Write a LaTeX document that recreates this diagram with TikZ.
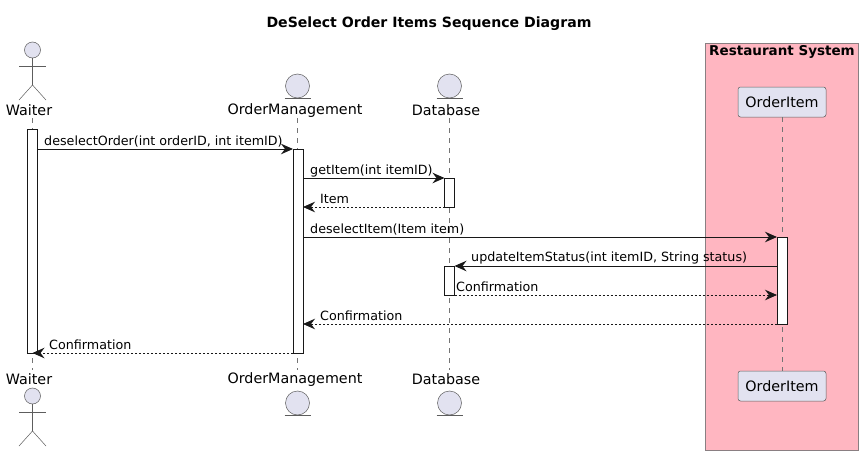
\documentclass[tikz,border=0pt]{standalone}
\usepackage{fontspec}
\setmainfont{DejaVu Sans}
\usetikzlibrary{arrows.meta}
\definecolor{partfill}{HTML}{E2E2F0}
\definecolor{inkline}{HTML}{181818}
\definecolor{boxpink}{HTML}{FFB6C1}
\definecolor{boxedge}{HTML}{8A7F82}
\tikzset{
  x=1pt,y=-1pt,
  lifeline/.style={draw=inkline!60,line width=0.5pt,dash pattern=on 5pt off 5pt},
  activation/.style={draw=inkline,fill=white,line width=1pt,minimum width=10pt,inner sep=0pt,outer sep=0pt,rectangle},
  msgtip/.style={-{Stealth[inset=4pt,length=12pt,width=10.5pt,inkline]}},
  msg/.style={draw=inkline,line width=1pt,msgtip},
  ret/.style={draw=inkline,line width=0.8pt,dash pattern=on 2pt off 2pt,msgtip},
  msglabel/.style={anchor=base west,inner sep=0pt,font=\fontsize{12.7}{15}\selectfont,text=black},
  partlabel/.style={inner sep=0pt,font=\fontsize{14.3}{16}\selectfont,text=black},
  partbox/.style={draw=inkline!70,fill=partfill,rounded corners=2.5pt,line width=0.5pt,minimum width=88pt,minimum height=30pt,inner sep=0pt,font=\fontsize{14.3}{16}\selectfont},
  headshape/.style={draw=inkline!70,fill=partfill,line width=0.5pt},
  bodyshape/.style={draw=inkline!70,line width=0.5pt},
}
\newcommand{\actorfig}[2]{%
  \draw[headshape] (#1,#2) circle (8);
  \draw[bodyshape] (#1,#2+8) -- (#1,#2+35);
  \draw[bodyshape] (#1-13.5,#2+16) -- (#1+13.5,#2+16);
  \draw[bodyshape] (#1-13.5,#2+50) -- (#1,#2+35) -- (#1+13.5,#2+50);
}
\newcommand{\entityfig}[2]{%
  \draw[headshape] (#1,#2) circle (12);
  \draw[bodyshape] (#1-13,#2+12.5) -- (#1+13,#2+12.5);
}
\begin{document}
\begin{tikzpicture}
\useasboundingbox (0,0) rectangle (863,455);
\fill[white] (0,0) rectangle (863,455);
\node[inner sep=0pt,font=\bfseries\fontsize{14.1}{16}\selectfont] (title) at (429,23.5) {DeSelect Order Items Sequence Diagram};
\node[draw=boxedge,fill=boxpink,line width=0.7pt,minimum width=153pt,minimum height=407pt,inner sep=0pt,anchor=north west] (sysbox) at (705,43) {};
\node[inner sep=0pt,font=\bfseries\fontsize{13.5}{15}\selectfont] (syslabel) at (782,51.5) {Restaurant System};
% participants
\node[partlabel] (wT) at (29,110.5) {Waiter};
\node[partlabel] (oT) at (295,110.5) {OrderManagement};
\node[partlabel] (dT) at (446,110.5) {Database};
\node[partbox] (iT) at (782,102) {OrderItem};
\node[partlabel] (wB) at (29,379.5) {Waiter};
\node[partlabel] (oB) at (295,379.5) {OrderManagement};
\node[partlabel] (dB) at (446,379.5) {Database};
\node[partbox] (iB) at (782,386) {OrderItem};
\actorfig{32.5}{50}
\actorfig{32.5}{396}
\entityfig{297.5}{86}
\entityfig{449.5}{86}
\entityfig{297.5}{403}
\entityfig{449.5}{403}
% lifelines
\coordinate (wl1) at (32.5,118); \coordinate (wl2) at (32.5,370);
\coordinate (ol1) at (297.5,118); \coordinate (ol2) at (297.5,370);
\coordinate (dl1) at (449.5,118); \coordinate (dl2) at (449.5,370);
\draw[lifeline] (wl1) -- (wl2);
\draw[lifeline] (ol1) -- (ol2);
\draw[lifeline] (dl1) -- (dl2);
\draw[lifeline] (iT.south) -- (iB.north);
% activations
\node[activation,minimum height=224pt,anchor=north] (aW) at (32.5,129) {};
\node[activation,minimum height=204pt,anchor=north] (aO) at (298,149) {};
\node[activation,minimum height=29pt,anchor=north] (aD1) at (449.5,178) {};
\node[activation,minimum height=29pt,anchor=north] (aD2) at (449.5,266) {};
\node[activation,minimum height=87pt,anchor=north] (aI) at (782,237) {};
% messages
\draw[msg] (aW.east |- aO.north) -- (aO.north west);
\node[msglabel] (m1) at (44,145) {deselectOrder(int orderID, int itemID)};
\draw[msg] (aO.east |- aD1.north) -- (aD1.north west);
\node[msglabel] (m2) at (310,174) {getItem(int itemID)};
\draw[ret] (aD1.south west) -- (aO.east |- aD1.south);
\node[msglabel] (m3) at (320,203) {Item};
\draw[msg] (aO.east |- aI.north) -- (aI.north west);
\node[msglabel] (m4) at (310,233) {deselectItem(Item item)};
\draw[msg] (aI.west |- aD2.north) -- (aD2.north east);
\node[msglabel] (m5) at (471,261.5) {updateItemStatus(int itemID, String status)};
\draw[ret] (aD2.south east) -- (aI.west |- aD2.south);
\node[msglabel] (m6) at (456,291) {Confirmation};
\draw[ret] (aI.south west) -- (aO.east |- aI.south);
\node[msglabel] (m7) at (320,320) {Confirmation};
\draw[ret] (aO.south west) -- (aW.center |- aO.south);
\node[msglabel] (m8) at (49,349) {Confirmation};
\end{tikzpicture}
\end{document}
